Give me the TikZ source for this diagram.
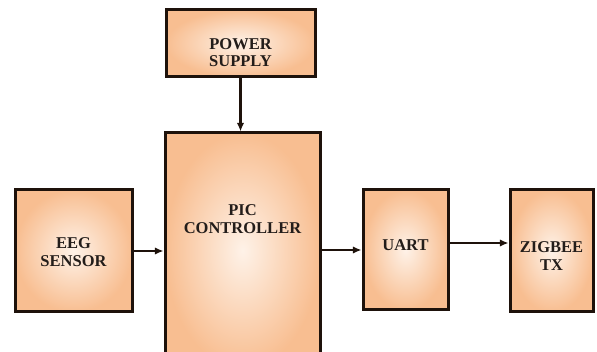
\documentclass[tikz,border=0pt]{standalone}
\usepackage{fontspec}
\setmainfont{Liberation Serif}
\usepackage{tikz}
\usetikzlibrary{arrows.meta,positioning,shadows}
\definecolor{blkline}{HTML}{1E120B}
\definecolor{blklight}{HTML}{FEF2E8}
\definecolor{blkdark}{HTML}{F8BE91}
\definecolor{blktext}{HTML}{231D1A}
\tikzset{
  blk/.style={draw=blkline,line width=3pt,inner color=blklight,outer color=blkdark,
    drop shadow={shadow xshift=1.5pt,shadow yshift=-1.5pt,opacity=.35}},
  txt/.style={align=center,font=\fontsize{16.5}{17.5}\selectfont\bfseries,text=blktext},
  flow/.style={-{Latex[length=3mm,width=2.6mm]},line width=2.4pt,draw=blkline}
}
\begin{document}
\begin{tikzpicture}[x=1pt,y=1pt]
  \clip (0,0) rectangle (597,352);
  % blocks
  \node[blk,minimum width=149pt,minimum height=67pt] (power) at (240.5,308.5) {};
  \node[blk,minimum width=155pt,minimum height=235pt] (pic) at (242.5,101.5) {};
  \node[blk,minimum width=117pt,minimum height=122pt] (eeg) at (73.5,101) {};
  \node[blk,minimum width=85pt,minimum height=120pt] (uart) at (405.5,102) {};
  \node[blk,minimum width=83pt,minimum height=122pt] (zig) at (551.5,101) {};
  % labels
  \node[txt] (powertxt) at ([yshift=-9pt]power.center) {POWER\\SUPPLY};
  \node[txt,below=70pt of pic.north] (pictxt) {PIC\\CONTROLLER};
  \node[txt] (eegtxt) at ([yshift=-1pt]eeg.center) {EEG\\SENSOR};
  \node[txt] (uarttxt) at ([yshift=5pt]uart.center) {UART};
  \node[txt] (zigtxt) at ([yshift=-5pt]zig.center) {ZIGBEE\\TX};
  % connectors
  \draw[flow] (power.south) -- (power.south |- pic.north);
  \draw[flow] (eeg.east) -- (eeg.east -| pic.west);
  \draw[flow] (pic.east |- uart.west) -- (uart.west);
  \draw[flow] ([yshift=7pt]uart.east) -- ([yshift=7pt]uart.east -| zig.west);
\end{tikzpicture}
\end{document}
